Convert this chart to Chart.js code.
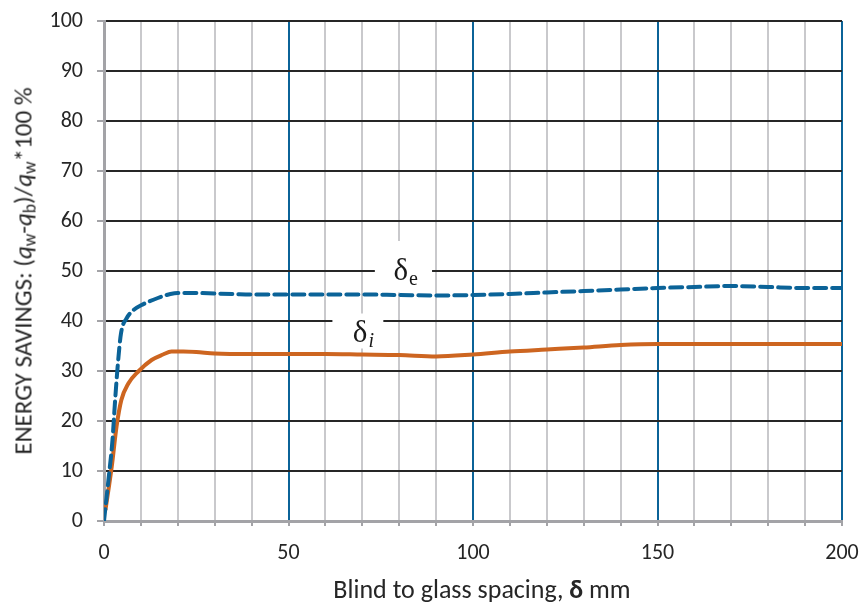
<!DOCTYPE html>
<html>
<head>
<meta charset="utf-8">
<title>Energy savings vs blind spacing</title>
<script src="https://cdn.jsdelivr.net/npm/chart.js@4.4.1/dist/chart.umd.min.js"></script>
<style>
  html, body { margin: 0; padding: 0; background: #fff; }
  #wrap { position: relative; width: 861px; height: 604px; font-family: Carlito, Lato, "Open Sans", sans-serif; color: #262626; }
  #wrap canvas { position: absolute; left: 0; top: 0; }
  .ytitle {
    position: absolute; left: 23px; top: 271px; white-space: nowrap;
    font-size: 25px; transform: translate(-50%, -50%) rotate(-90deg);
  }
  .xtitle {
    position: absolute; left: 482px; top: 589px; white-space: nowrap;
    font-size: 26px; transform: translate(-50%, -50%);
  }
  sub { font-size: 0.7em; vertical-align: -0.25em; line-height: 0; }
</style>
</head>
<body>
<div id="wrap">
  <canvas id="chart" width="861" height="604"></canvas>
  <div class="ytitle">ENERGY SAVINGS: (<i>q</i><sub>w</sub>-<i>q</i><sub>b</sub>)/<i>q</i><sub>w</sub>*100 %</div>
  <div class="xtitle">Blind to glass spacing, <b>&delta;</b> mm</div>
</div>
<script>
// delta_e : blind on the exterior side (dashed)
const spacingE = [0, 1.2, 2.3, 3, 3.7, 4.6, 6.1, 8, 10.2, 14.6, 18, 20, 25, 30, 35, 40, 50, 60, 70, 80, 90, 100, 110, 120, 130, 140, 150, 160, 170, 180, 190, 200];
const savingsE = [0, 8.2, 16.2, 24, 30.9, 37.5, 40.5, 42.2, 43.2, 44.6, 45.4, 45.6, 45.6, 45.5, 45.4, 45.3, 45.3, 45.3, 45.3, 45.2, 45.1, 45.2, 45.4, 45.7, 46.0, 46.3, 46.6, 46.8, 47.0, 46.8, 46.6, 46.6];

// delta_i : blind on the interior side (solid)
const spacingI = [0.4, 2.1, 3.4, 4.7, 6.6, 9.3, 12.9, 16, 18.3, 21.5, 25, 30, 40, 50, 60, 70, 80, 90, 100, 110, 120, 130, 140, 150, 160, 170, 180, 190, 200];
const savingsI = [2.2, 10.9, 18.9, 24.2, 27.5, 29.9, 32.2, 33.3, 33.9, 33.9, 33.8, 33.5, 33.4, 33.4, 33.4, 33.3, 33.2, 32.9, 33.3, 33.9, 34.3, 34.7, 35.2, 35.4, 35.4, 35.4, 35.4, 35.4, 35.4];

const xLabels = [0, 50, 100, 150, 200];

// curve labels, placed in data units
const curveLabels = [
  { main: 'δ', sub: 'e', italic: false, x: 80.5, y: 50, x0: 73.4, x1: 88.9, y0: 45.7, y1: 56 },
  { main: 'δ', sub: 'i', italic: true, x: 69.5, y: 37.6, x0: 61.9, x1: 75.7, y0: 34.5, y1: 41.5 }
];

const BLUE = '#0b6398';
const ORANGE = '#cd6520';
const AXIS = '#a3a3a7';
const FONT = 'Carlito, Lato, sans-serif';

const toPoints = (xs, ys) => xs.map((x, i) => ({ x, y: ys[i] }));

// white text boxes behind the curve names (they hide the grid, not the curves)
const labelBoxes = {
  id: 'labelBoxes',
  beforeDatasetsDraw(chart) {
    const { ctx, scales: { x, y } } = chart;
    ctx.save();
    ctx.fillStyle = '#fff';
    curveLabels.forEach(l => {
      const px0 = x.getPixelForValue(l.x0), px1 = x.getPixelForValue(l.x1);
      const py0 = y.getPixelForValue(l.y1), py1 = y.getPixelForValue(l.y0);
      ctx.fillRect(px0, py0, px1 - px0, py1 - py0);
    });
    ctx.restore();
  },
  afterDatasetsDraw(chart) {
    const { ctx, scales: { x, y } } = chart;
    ctx.save();
    ctx.fillStyle = '#1a1a1a';
    ctx.textBaseline = 'alphabetic';
    curveLabels.forEach(l => {
      const px = x.getPixelForValue(l.x), py = y.getPixelForValue(l.y);
      ctx.font = '31px "Liberation Serif", "DejaVu Serif", serif';
      ctx.textAlign = 'right';
      ctx.fillText(l.main, px + 7, py + 9);
      ctx.font = (l.italic ? 'italic ' : '') + '20px "Liberation Serif", "DejaVu Serif", serif';
      ctx.textAlign = 'left';
      ctx.fillText(l.sub, px + 8, py + 14);
    });
    ctx.restore();
  }
};

// keep the plot box fixed: no extra room for overhanging tick labels
const noOverhang = s => { s.paddingTop = 0; s.paddingBottom = 0; s.paddingLeft = 0; s.paddingRight = 0; };

new Chart(document.getElementById('chart'), {
  type: 'line',
  data: {
    datasets: [
      {
        label: 'δe',
        data: toPoints(spacingE, savingsE),
        borderColor: BLUE,
        borderWidth: 4,
        borderDash: [12, 6],
        borderCapStyle: 'round',
        pointRadius: 0,
        cubicInterpolationMode: 'monotone'
      },
      {
        label: 'δi',
        data: toPoints(spacingI, savingsI),
        borderColor: ORANGE,
        borderWidth: 4,
        pointRadius: 0,
        cubicInterpolationMode: 'monotone'
      }
    ]
  },
  options: {
    responsive: false,
    animation: false,
    layout: { padding: { top: 21, right: 19, left: 0, bottom: 0 } },
    plugins: {
      legend: { display: false },
      tooltip: { enabled: false }
    },
    scales: {
      x: {
        type: 'linear',
        min: 0,
        max: 200,
        afterFit(s) { s.height = 83; noOverhang(s); },
        border: { color: AXIS, width: 3 },
        grid: {
          color: c => (c.tick && c.tick.value % 50 === 0) ? BLUE : '#c9c9cc',
          lineWidth: 2,
          tickColor: AXIS,
          tickLength: 5
        },
        ticks: {
          stepSize: 10,
          autoSkip: false,
          maxRotation: 0,
          padding: 14,
          color: '#262626',
          font: { family: FONT, size: 22 },
          callback: v => xLabels.includes(v) ? String(v) : ''
        }
      },
      y: {
        min: 0,
        max: 100,
        afterFit(s) { s.width = 104; noOverhang(s); },
        border: { color: AXIS, width: 3 },
        grid: {
          color: '#262626',
          lineWidth: 2,
          tickColor: AXIS,
          tickLength: 7
        },
        ticks: {
          stepSize: 10,
          padding: 14,
          color: '#262626',
          font: { family: FONT, size: 22 }
        }
      }
    }
  },
  plugins: [labelBoxes]
});
</script>
</body>
</html>
